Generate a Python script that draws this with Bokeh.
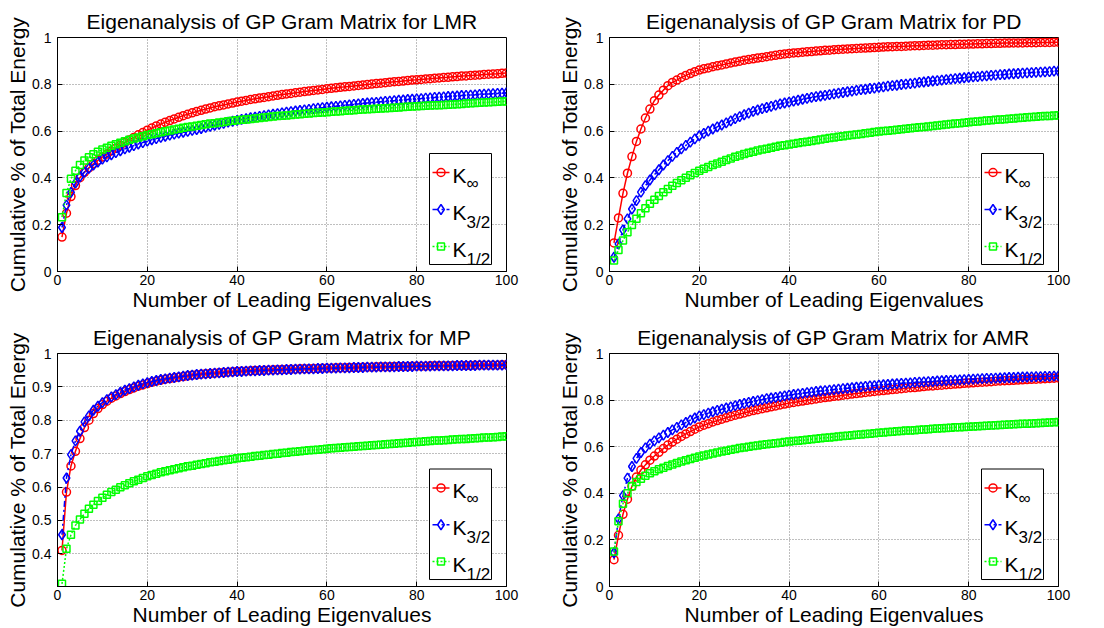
from bokeh.plotting import figure
from bokeh.layouts import gridplot
from bokeh.models import FixedTicker, Range1d
from bokeh.core.properties import value
from bokeh.embed import file_html
from bokeh.resources import INLINE

FONT = "Liberation Sans"

n_eig = list(range(1, 101))
x_ticks = [0, 20, 40, 60, 80, 100]
y_ticks_full = [0, 0.2, 0.4, 0.6, 0.8, 1.0]
y_ticks_mp = [0.4, 0.5, 0.6, 0.7, 0.8, 0.9, 1.0]
legend_main = ["K", "K", "K"]
legend_sub = ["\u221e", "3/2", "1/2"]
titles = ["Eigenanalysis of GP Gram Matrix for LMR", "Eigenanalysis of GP Gram Matrix for PD",
          "Eigenanalysis of GP Gram Matrix for MP", "Eigenanalysis of GP Gram Matrix for AMR"]
x_label = "Number of Leading Eigenvalues"
y_label = "Cumulative % of Total Energy"

# ---------------- LMR ----------------
lmr_inf = [0.147, 0.249, 0.320, 0.367, 0.401, 0.424, 0.443, 0.460, 0.475, 0.489,
           0.502, 0.515, 0.527, 0.539, 0.551, 0.562, 0.573, 0.584, 0.594, 0.604,
           0.613, 0.622, 0.630, 0.638, 0.645, 0.652, 0.659, 0.666, 0.672, 0.678,
           0.684, 0.689, 0.694, 0.699, 0.704, 0.708, 0.712, 0.716, 0.720, 0.724,
           0.728, 0.731, 0.735, 0.738, 0.741, 0.744, 0.747, 0.750, 0.753, 0.756,
           0.759, 0.761, 0.764, 0.766, 0.769, 0.771, 0.774, 0.776, 0.778, 0.781,
           0.783, 0.785, 0.787, 0.789, 0.791, 0.793, 0.795, 0.797, 0.799, 0.801,
           0.803, 0.805, 0.807, 0.809, 0.811, 0.812, 0.814, 0.816, 0.818, 0.819,
           0.821, 0.823, 0.824, 0.826, 0.827, 0.829, 0.830, 0.832, 0.833, 0.835,
           0.836, 0.838, 0.839, 0.840, 0.842, 0.843, 0.844, 0.845, 0.847, 0.848]
lmr_32 = [0.188, 0.284, 0.338, 0.378, 0.405, 0.425, 0.441, 0.455, 0.468, 0.480,
          0.490, 0.499, 0.508, 0.516, 0.524, 0.531, 0.538, 0.545, 0.551, 0.557,
          0.563, 0.568, 0.573, 0.578, 0.583, 0.587, 0.591, 0.595, 0.599, 0.603,
          0.607, 0.611, 0.616, 0.620, 0.625, 0.629, 0.633, 0.638, 0.642, 0.646,
          0.650, 0.653, 0.657, 0.660, 0.663, 0.666, 0.669, 0.672, 0.675, 0.678,
          0.681, 0.683, 0.686, 0.688, 0.691, 0.693, 0.696, 0.698, 0.700, 0.702,
          0.704, 0.706, 0.708, 0.710, 0.712, 0.714, 0.716, 0.718, 0.720, 0.722,
          0.723, 0.725, 0.727, 0.728, 0.730, 0.732, 0.733, 0.735, 0.736, 0.738,
          0.739, 0.741, 0.742, 0.744, 0.745, 0.746, 0.748, 0.749, 0.750, 0.752,
          0.753, 0.754, 0.755, 0.757, 0.758, 0.759, 0.760, 0.761, 0.762, 0.764]
lmr_12 = [0.232, 0.336, 0.396, 0.431, 0.455, 0.474, 0.488, 0.501, 0.512, 0.521,
          0.529, 0.537, 0.544, 0.550, 0.557, 0.563, 0.568, 0.573, 0.578, 0.583,
          0.587, 0.591, 0.595, 0.599, 0.603, 0.607, 0.610, 0.614, 0.617, 0.620,
          0.623, 0.626, 0.629, 0.632, 0.634, 0.637, 0.639, 0.642, 0.644, 0.646,
          0.648, 0.650, 0.652, 0.654, 0.656, 0.658, 0.660, 0.662, 0.664, 0.666,
          0.667, 0.669, 0.671, 0.672, 0.674, 0.675, 0.677, 0.678, 0.680, 0.681,
          0.683, 0.684, 0.685, 0.687, 0.688, 0.689, 0.691, 0.692, 0.693, 0.694,
          0.696, 0.697, 0.698, 0.699, 0.700, 0.701, 0.703, 0.704, 0.705, 0.706,
          0.707, 0.708, 0.709, 0.710, 0.711, 0.712, 0.713, 0.714, 0.715, 0.716,
          0.718, 0.719, 0.720, 0.721, 0.722, 0.723, 0.724, 0.725, 0.726, 0.728]

# ---------------- PD ----------------
pd_inf = [0.122, 0.229, 0.334, 0.420, 0.491, 0.556, 0.609, 0.656, 0.694, 0.730,
          0.754, 0.775, 0.794, 0.808, 0.818, 0.829, 0.838, 0.846, 0.854, 0.861,
          0.866, 0.870, 0.875, 0.879, 0.883, 0.887, 0.891, 0.895, 0.899, 0.903,
          0.906, 0.909, 0.912, 0.915, 0.918, 0.921, 0.924, 0.927, 0.930, 0.932,
          0.934, 0.935, 0.937, 0.939, 0.940, 0.942, 0.943, 0.945, 0.946, 0.948,
          0.949, 0.950, 0.951, 0.952, 0.953, 0.954, 0.955, 0.956, 0.957, 0.958,
          0.959, 0.960, 0.961, 0.962, 0.962, 0.963, 0.964, 0.965, 0.965, 0.966,
          0.967, 0.967, 0.968, 0.969, 0.969, 0.970, 0.970, 0.971, 0.971, 0.972,
          0.972, 0.973, 0.973, 0.974, 0.974, 0.975, 0.975, 0.976, 0.976, 0.977,
          0.977, 0.977, 0.978, 0.978, 0.978, 0.979, 0.979, 0.979, 0.980, 0.980]
pd_32 = [0.061, 0.118, 0.178, 0.225, 0.267, 0.303, 0.339, 0.367, 0.391, 0.414,
         0.435, 0.455, 0.474, 0.492, 0.509, 0.524, 0.539, 0.553, 0.567, 0.580,
         0.590, 0.600, 0.609, 0.618, 0.626, 0.635, 0.644, 0.653, 0.662, 0.670,
         0.677, 0.684, 0.690, 0.696, 0.701, 0.706, 0.711, 0.716, 0.720, 0.724,
         0.728, 0.732, 0.736, 0.740, 0.744, 0.747, 0.750, 0.753, 0.756, 0.759,
         0.762, 0.765, 0.768, 0.771, 0.774, 0.777, 0.779, 0.782, 0.784, 0.787,
         0.789, 0.792, 0.794, 0.796, 0.799, 0.801, 0.803, 0.805, 0.808, 0.810,
         0.812, 0.814, 0.816, 0.818, 0.820, 0.822, 0.824, 0.826, 0.828, 0.830,
         0.832, 0.833, 0.835, 0.836, 0.838, 0.839, 0.841, 0.842, 0.844, 0.845,
         0.846, 0.848, 0.849, 0.850, 0.851, 0.852, 0.853, 0.854, 0.856, 0.857]
pd_12 = [0.047, 0.092, 0.132, 0.168, 0.199, 0.225, 0.249, 0.270, 0.289, 0.307,
         0.323, 0.339, 0.353, 0.366, 0.378, 0.390, 0.401, 0.411, 0.421, 0.431,
         0.439, 0.447, 0.455, 0.462, 0.469, 0.476, 0.483, 0.490, 0.496, 0.502,
         0.507, 0.512, 0.517, 0.521, 0.525, 0.529, 0.533, 0.537, 0.540, 0.543,
         0.546, 0.549, 0.552, 0.555, 0.558, 0.561, 0.564, 0.567, 0.570, 0.573,
         0.576, 0.578, 0.581, 0.583, 0.586, 0.588, 0.591, 0.593, 0.596, 0.598,
         0.600, 0.602, 0.604, 0.606, 0.608, 0.610, 0.612, 0.614, 0.616, 0.618,
         0.620, 0.622, 0.624, 0.626, 0.628, 0.630, 0.632, 0.634, 0.636, 0.638,
         0.640, 0.641, 0.643, 0.645, 0.646, 0.648, 0.650, 0.651, 0.653, 0.654,
         0.656, 0.657, 0.659, 0.660, 0.661, 0.663, 0.664, 0.665, 0.667, 0.668]

# ---------------- MP ----------------
mp_inf = [0.410, 0.585, 0.663, 0.707, 0.745, 0.778, 0.800, 0.820, 0.835, 0.847,
          0.857, 0.866, 0.873, 0.880, 0.886, 0.892, 0.897, 0.902, 0.906, 0.910,
          0.914, 0.917, 0.920, 0.923, 0.925, 0.927, 0.929, 0.931, 0.933, 0.935,
          0.936, 0.938, 0.939, 0.940, 0.941, 0.942, 0.943, 0.944, 0.945, 0.946,
          0.947, 0.947, 0.948, 0.949, 0.949, 0.950, 0.950, 0.951, 0.951, 0.952,
          0.952, 0.953, 0.953, 0.954, 0.954, 0.954, 0.955, 0.955, 0.956, 0.956,
          0.956, 0.957, 0.957, 0.957, 0.958, 0.958, 0.958, 0.959, 0.959, 0.959,
          0.960, 0.960, 0.960, 0.960, 0.961, 0.961, 0.961, 0.961, 0.962, 0.962,
          0.962, 0.962, 0.963, 0.963, 0.963, 0.963, 0.963, 0.964, 0.964, 0.964,
          0.964, 0.964, 0.965, 0.965, 0.965, 0.965, 0.965, 0.965, 0.966, 0.966]
mp_32 = [0.457, 0.627, 0.697, 0.738, 0.767, 0.795, 0.813, 0.830, 0.842, 0.853,
         0.862, 0.870, 0.877, 0.884, 0.890, 0.895, 0.900, 0.905, 0.909, 0.913,
         0.916, 0.919, 0.922, 0.924, 0.926, 0.928, 0.930, 0.932, 0.934, 0.935,
         0.937, 0.938, 0.939, 0.940, 0.941, 0.942, 0.943, 0.944, 0.945, 0.946,
         0.946, 0.947, 0.948, 0.948, 0.949, 0.949, 0.950, 0.950, 0.951, 0.951,
         0.952, 0.952, 0.953, 0.953, 0.954, 0.954, 0.954, 0.955, 0.955, 0.956,
         0.956, 0.956, 0.957, 0.957, 0.957, 0.958, 0.958, 0.958, 0.959, 0.959,
         0.959, 0.960, 0.960, 0.960, 0.960, 0.961, 0.961, 0.961, 0.961, 0.962,
         0.962, 0.962, 0.962, 0.963, 0.963, 0.963, 0.963, 0.963, 0.964, 0.964,
         0.964, 0.964, 0.964, 0.965, 0.965, 0.965, 0.965, 0.965, 0.965, 0.966]
mp_12 = [0.310, 0.415, 0.457, 0.485, 0.503, 0.520, 0.535, 0.547, 0.558, 0.568,
         0.577, 0.585, 0.592, 0.599, 0.605, 0.611, 0.617, 0.622, 0.627, 0.632,
         0.636, 0.640, 0.644, 0.647, 0.650, 0.653, 0.656, 0.659, 0.662, 0.664,
         0.667, 0.669, 0.671, 0.674, 0.676, 0.678, 0.680, 0.682, 0.684, 0.686,
         0.688, 0.689, 0.691, 0.693, 0.694, 0.696, 0.697, 0.699, 0.700, 0.702,
         0.703, 0.705, 0.706, 0.707, 0.709, 0.710, 0.711, 0.712, 0.713, 0.715,
         0.716, 0.717, 0.718, 0.719, 0.720, 0.721, 0.722, 0.723, 0.724, 0.725,
         0.726, 0.727, 0.728, 0.729, 0.730, 0.731, 0.732, 0.733, 0.734, 0.735,
         0.736, 0.737, 0.738, 0.739, 0.739, 0.740, 0.741, 0.742, 0.743, 0.744,
         0.744, 0.745, 0.746, 0.747, 0.748, 0.748, 0.749, 0.750, 0.751, 0.752]

# ---------------- AMR ----------------
amr_inf = [0.115, 0.220, 0.310, 0.375, 0.430, 0.470, 0.500, 0.522, 0.542, 0.560,
           0.576, 0.592, 0.607, 0.620, 0.632, 0.644, 0.655, 0.665, 0.675, 0.685,
           0.692, 0.699, 0.706, 0.712, 0.718, 0.724, 0.730, 0.735, 0.740, 0.745,
           0.750, 0.755, 0.759, 0.763, 0.767, 0.771, 0.775, 0.779, 0.783, 0.787,
           0.790, 0.793, 0.796, 0.799, 0.802, 0.805, 0.808, 0.811, 0.813, 0.816,
           0.818, 0.821, 0.823, 0.826, 0.828, 0.830, 0.833, 0.835, 0.837, 0.839,
           0.841, 0.843, 0.845, 0.847, 0.849, 0.851, 0.853, 0.854, 0.856, 0.858,
           0.860, 0.861, 0.863, 0.864, 0.866, 0.867, 0.869, 0.870, 0.872, 0.873,
           0.874, 0.876, 0.877, 0.878, 0.879, 0.881, 0.882, 0.883, 0.884, 0.885,
           0.886, 0.887, 0.888, 0.889, 0.890, 0.891, 0.892, 0.893, 0.894, 0.895]
amr_32 = [0.145, 0.290, 0.390, 0.465, 0.515, 0.550, 0.575, 0.595, 0.611, 0.625,
          0.638, 0.650, 0.661, 0.672, 0.683, 0.694, 0.704, 0.714, 0.723, 0.732,
          0.738, 0.744, 0.750, 0.756, 0.761, 0.766, 0.771, 0.776, 0.781, 0.786,
          0.790, 0.794, 0.798, 0.802, 0.806, 0.809, 0.812, 0.815, 0.818, 0.821,
          0.824, 0.827, 0.829, 0.832, 0.834, 0.837, 0.839, 0.841, 0.843, 0.845,
          0.847, 0.849, 0.851, 0.853, 0.855, 0.857, 0.859, 0.861, 0.862, 0.864,
          0.866, 0.867, 0.869, 0.870, 0.872, 0.873, 0.874, 0.876, 0.877, 0.878,
          0.879, 0.880, 0.882, 0.883, 0.884, 0.885, 0.886, 0.887, 0.888, 0.889,
          0.890, 0.891, 0.892, 0.893, 0.893, 0.894, 0.895, 0.896, 0.897, 0.897,
          0.898, 0.899, 0.899, 0.900, 0.901, 0.901, 0.902, 0.902, 0.903, 0.904]
amr_12 = [0.150, 0.280, 0.355, 0.400, 0.430, 0.448, 0.462, 0.475, 0.486, 0.495,
          0.503, 0.510, 0.517, 0.524, 0.530, 0.536, 0.542, 0.547, 0.553, 0.558,
          0.562, 0.567, 0.571, 0.575, 0.579, 0.583, 0.587, 0.590, 0.594, 0.597,
          0.600, 0.603, 0.605, 0.608, 0.610, 0.613, 0.615, 0.617, 0.620, 0.622,
          0.624, 0.626, 0.628, 0.630, 0.632, 0.634, 0.636, 0.638, 0.640, 0.642,
          0.644, 0.646, 0.647, 0.649, 0.651, 0.652, 0.654, 0.656, 0.658, 0.660,
          0.661, 0.663, 0.664, 0.666, 0.667, 0.669, 0.670, 0.671, 0.673, 0.674,
          0.675, 0.677, 0.678, 0.679, 0.680, 0.681, 0.683, 0.684, 0.685, 0.686,
          0.687, 0.688, 0.689, 0.690, 0.691, 0.692, 0.693, 0.694, 0.695, 0.696,
          0.697, 0.698, 0.699, 0.700, 0.701, 0.702, 0.703, 0.704, 0.705, 0.706]

RED, BLUE, GREEN = "#ff0000", "#0000ff", "#00ff00"
STYLES = [
    dict(color=RED, dash="solid", marker="circle", size=8),
    dict(color=BLUE, dash="6 3 2 3", marker="diamond", size=10),
    dict(color=GREEN, dash="2 2", marker="square", size=7),
]

FRAME_W, FRAME_H = 449.0, 234.0


def add_legend(p, x0, x1, y0, y1):
    fx = lambda px: x0 + (x1 - x0) * px / FRAME_W
    fy = lambda py: y1 - (y1 - y0) * py / FRAME_H
    p.quad(left=[fx(372)], right=[fx(434)], top=[fy(116)], bottom=[fy(227)],
           fill_color="white", line_color="black", line_width=1)
    rows = [135, 172, 209]
    sub_dy = [11, 13, 13]
    for st, ry, main, sub, sdy in zip(STYLES, rows, legend_main, legend_sub, sub_dy):
        p.line([fx(375), fx(392)], [fy(ry), fy(ry)], line_color=st["color"],
               line_dash=st["dash"], line_width=1.5)
        p.scatter([fx(383.5)], [fy(ry)], marker=st["marker"], size=st["size"],
                  fill_color=None, line_color=st["color"], line_width=1.5)
        p.text(x=[fx(395)], y=[fy(ry + 3)], text=[main], text_font=value(FONT),
               text_font_size=value("21px"), text_baseline="alphabetic", text_color="black")
        p.text(x=[fx(409)], y=[fy(ry + sdy)], text=[sub], text_font=value(FONT),
               text_font_size=value("17px"), text_baseline="alphabetic", text_color="black")


def make_panel(title, series, y_start, y_ticks, top):
    p = figure(width=552, height=314, output_backend="svg", toolbar_location=None,
               x_range=Range1d(0, 100), y_range=Range1d(y_start, 1.0),
               min_border_left=57, min_border_right=46,
               min_border_top=37 if top else 39, min_border_bottom=43 if top else 41,
               background_fill_color="white", border_fill_color="white")
    p.title.text = title
    p.title.align = "center"
    p.title.text_font = FONT
    p.title.text_font_size = "21px"
    p.title.text_font_style = "normal"
    p.title.text_color = "black"
    p.title.standoff = 9

    p.xaxis.ticker = FixedTicker(ticks=x_ticks)
    p.yaxis.ticker = FixedTicker(ticks=y_ticks)
    p.yaxis.major_label_overrides = {0: "0", 1: "1"}
    p.xaxis.axis_label = x_label
    p.yaxis.axis_label = y_label
    for ax in (p.xaxis, p.yaxis):
        ax.axis_label_text_font = FONT
        ax.axis_label_text_font_size = "21px"
        ax.axis_label_text_font_style = "normal"
        ax.axis_label_text_color = "black"
        ax.major_label_text_font = FONT
        ax.major_label_text_font_size = "14px"
        ax.major_label_text_color = "black"
        ax.major_tick_in = 5
        ax.major_tick_out = 0
        ax.minor_tick_in = 0
        ax.minor_tick_out = 0
        ax.axis_line_color = "black"
        ax.major_tick_line_color = "black"
        ax.axis_label_standoff = 0
    p.xaxis.major_label_standoff = 3
    p.yaxis.major_label_standoff = 6

    for g in (p.xgrid, p.ygrid):
        g.grid_line_color = "black"
        g.grid_line_alpha = 0.5
        g.grid_line_dash = "1 2"
        g.grid_line_width = 1
    p.outline_line_color = "black"
    p.outline_line_alpha = 1
    p.outline_line_width = 1

    for st, ys in zip(STYLES, series):
        p.line(n_eig, ys, line_color=st["color"], line_dash=st["dash"], line_width=1.5)
        p.scatter(n_eig, ys, marker=st["marker"], size=st["size"], fill_color=None,
                  line_color=st["color"], line_width=1.5)

    add_legend(p, 0, 100, y_start, 1.0)
    return p


p1 = make_panel(titles[0], [lmr_inf, lmr_32, lmr_12], 0.0, y_ticks_full, True)
p2 = make_panel(titles[1], [pd_inf, pd_32, pd_12], 0.0, y_ticks_full, True)
p3 = make_panel(titles[2], [mp_inf, mp_32, mp_12], 0.302, y_ticks_mp, False)
p4 = make_panel(titles[3], [amr_inf, amr_32, amr_12], 0.0, y_ticks_full, False)

layout = gridplot([[p1, p2], [p3, p4]], toolbar_location=None)
open("out.html", "w").write(file_html(layout, INLINE))
